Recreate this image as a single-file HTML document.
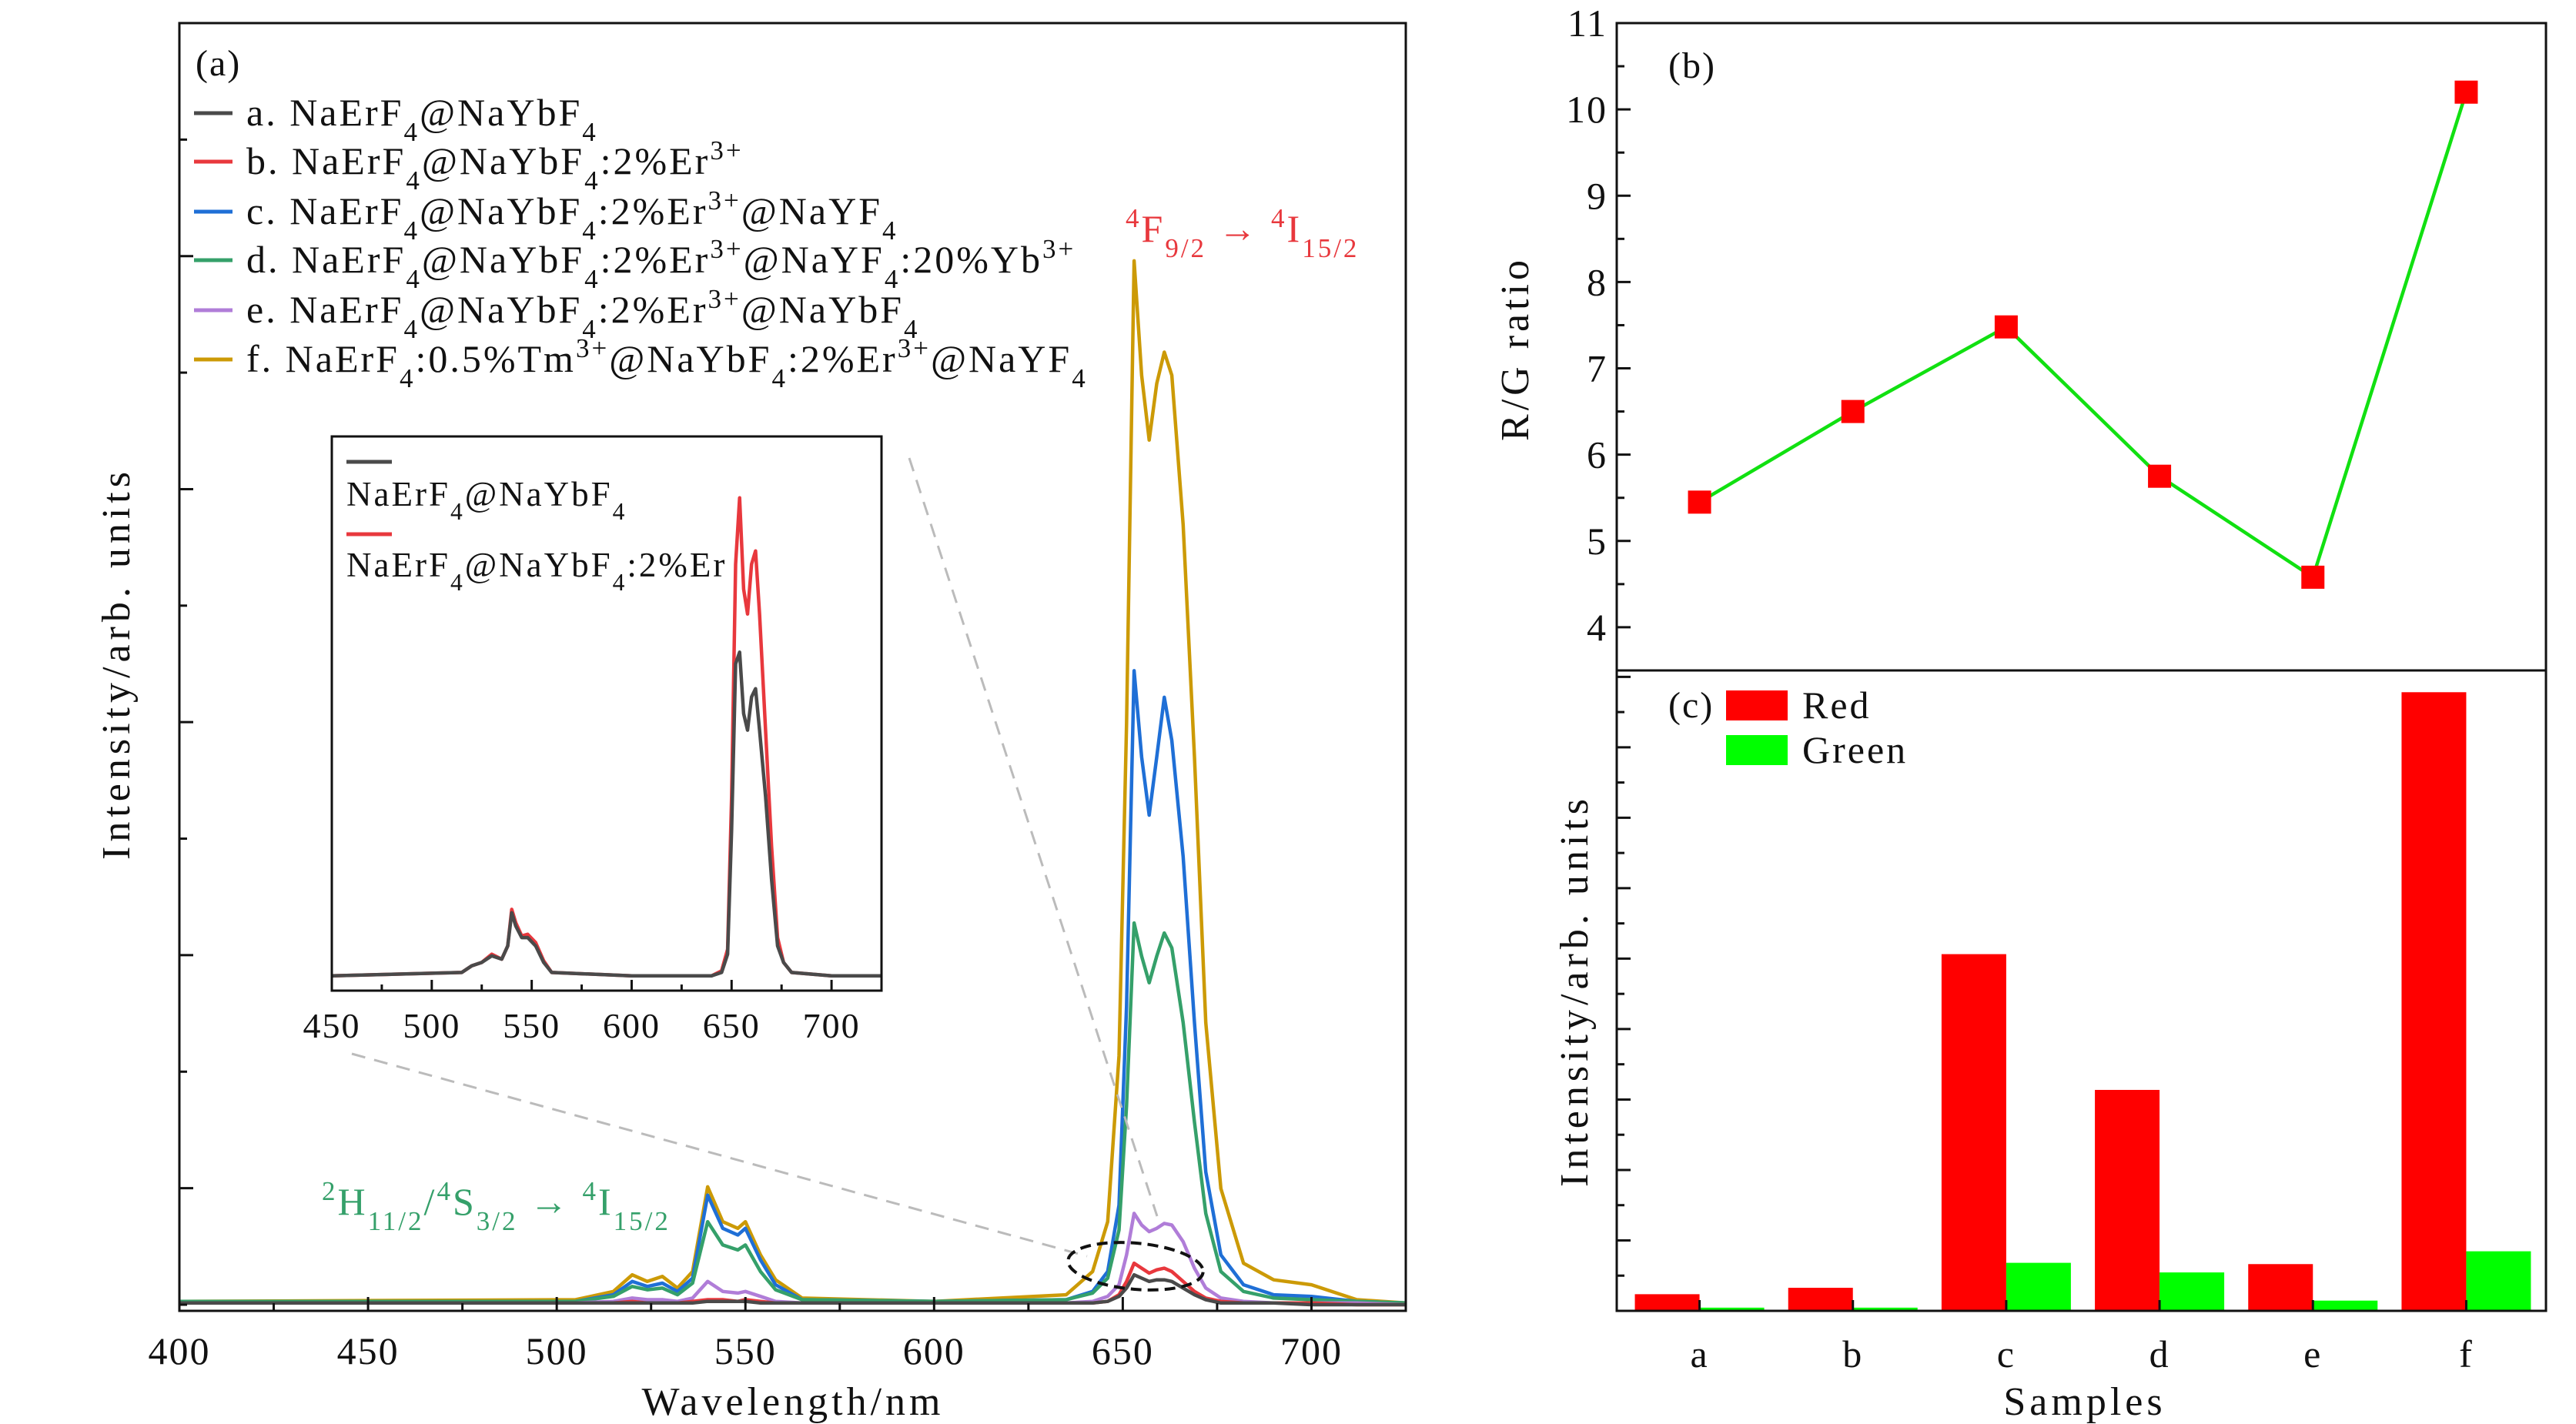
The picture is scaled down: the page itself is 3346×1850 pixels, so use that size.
<!DOCTYPE html>
<html><head><meta charset="utf-8"><style>
html,body{margin:0;padding:0;background:#fff;}
svg{display:block;font-family:"Liberation Serif",serif;}
</style></head><body>
<svg id="fig" width="3346" height="1850" viewBox="0 0 3346 1850" xmlns="http://www.w3.org/2000/svg">
<rect width="3346" height="1850" fill="#fff"/>
<g id="pa"></g>
<g id="pb"></g>
<g id="pc"></g>
</svg>
<script>
// ---- Panel (a) data ----
const wl = [400,505,515,520,524,528,532,536,540,544,548,550,554,558,565,600,635,642,646,649,651,653,655,657,659,661,663,666,669,672,676,682,690,700,712,725];
const seriesF = [2,3,8,18,14,17,10,20,71,50,46,50,30,15,4,2,6,20,50,150,350,629,560,521,555,574,560,470,330,170,70,25,15,12,3,1];
const seriesC = [2,2,6,14,11,13,8,16,66,46,42,46,27,12,3,2,3,8,20,60,180,382,330,295,330,366,340,270,170,80,30,12,6,5,2,1];
const seriesD = [2,2,5,11,9,10,6,13,50,36,33,36,20,9,3,2,3,7,16,45,120,230,210,194,210,224,215,170,110,55,20,8,4,3,2,1];
const seriesE = [1,1,2,4,3,3,2,4,14,8,7,8,5,2,1,1,1,2,5,12,30,55,48,44,46,49,48,38,22,10,4,2,1,1,1,0];
const seriesB = [1,1,1,2,1,1,1,2,3,3,2,3,2,1,1,1,1,1,2,6,14,25,22,19,21,22,20,14,8,4,2,1,1,1,0,0];
const seriesA = [1,1,1,1,1,1,1,1,2,2,2,2,1,1,1,1,1,1,2,5,10,18,16,14,15,15,14,10,6,3,1,1,1,0,0,0];
const xTicksA = [400,450,500,550,600,650,700];
// inset
const inWl = [450,515,520,525,530,535,538,540,542,545,548,552,556,560,600,640,645,648,650,652,654,656,658,660,662,664,667,670,673,676,680,700,725];
const inBlack = [2,4,8,10,14,12,20,40,32,25,25,20,10,4,2,2,4,15,90,190,197,160,150,170,175,150,110,60,20,10,4,2,2];
const inRed = [2,4,8,10,15,12,20,42,34,26,27,22,11,4,2,2,5,18,110,250,290,235,220,250,258,220,150,80,25,10,4,2,2];
const inTicks = [450,500,550,600,650,700];
// ---- Panel (b) data ----
const samples = ['a','b','c','d','e','f'];
const ratio = [5.45,6.5,7.48,5.75,4.58,10.2];
const yTicksB = [4,5,6,7,8,9,10,11];
// ---- Panel (c) data ----
const redVals = [2.6,3.6,55.7,34.5,7.3,96.6];
const greenVals = [0.5,0.5,7.5,6.0,1.6,9.3];

const NS='http://www.w3.org/2000/svg';
function mk(parent,tag,attrs){const e=document.createElementNS(NS,tag);for(const k in attrs)e.setAttribute(k,attrs[k]);parent.appendChild(e);return e;}
function txt(parent,x,y,parts,size,anchor,fill,ls){
  const t=mk(parent,'text',{x:x,y:y,'font-size':size,'text-anchor':anchor||'start',fill:fill||'#111','letter-spacing':ls||0});
  parts.forEach(p=>{
    if(typeof p==='string'){t.appendChild(document.createTextNode(p));}
    else{const s=mk(t,'tspan',{'baseline-shift':p[1],'font-size':size*0.7});s.textContent=p[0];}
  });
  return t;
}
const pa=document.getElementById('pa'),pb=document.getElementById('pb'),pc=document.getElementById('pc');

// ===== Panel a =====
const AL=233,AR=1826,AT=30,AB=1703;
const xA=w=>AL+(w-400)/(725-400)*(AR-AL);
const yA=v=>1695-v*2.156;
function pathOf(xs,ys,fx,fy){return xs.map((x,i)=>(i?'L':'M')+fx(x).toFixed(1)+','+fy(ys[i]).toFixed(1)).join(' ');}
const colors={a:'#4a4a4a',b:'#e8383d',c:'#1f6fd6',d:'#35a06a',e:'#b07dd8',f:'#cc9a06'};
[['f',seriesF],['c',seriesC],['d',seriesD],['e',seriesE],['b',seriesB],['a',seriesA]].forEach(([k,s])=>{
  const p=mk(pa,'path',{d:pathOf(wl,s,xA,yA),fill:'none',stroke:colors[k],'stroke-width':4.5,'stroke-linejoin':'round'});
  
  
});
const fa=mk(pa,'rect',{x:AL,y:AT,width:AR-AL,height:AB-AT,fill:'none',stroke:'#111','stroke-width':3});


for(let w=400;w<=725;w+=25){const maj=w%50===0;mk(pa,'line',{x1:xA(w),x2:xA(w),y1:AB,y2:AB-(maj?18:10),stroke:'#111','stroke-width':3});}
xTicksA.forEach(w=>{const t=txt(pa,xA(w),1772,[String(w)],50,'middle','#111',2);
  
  });
for(let i=0;i<=11;i++){const y=AB-8-i*(AB-8-AT)/11;mk(pa,'line',{x1:AL,x2:AL+(i%2?18:10),y1:y,y2:y,stroke:'#111','stroke-width':3});}
let t=txt(pa,1030,1838,['Wavelength/nm'],52,'middle','#111',5);

t=txt(pa,0,0,['Intensity/arb. units'],52,'middle','#111',6);t.setAttribute('transform','translate(168,862) rotate(-90)');

t=txt(pa,254,98,['(a)'],48,'start','#111',2);

const legTexts=[
 ['a. NaErF',['4','sub'],'@NaYbF',['4','sub']],
 ['b. NaErF',['4','sub'],'@NaYbF',['4','sub'],':2%Er',['3+','super']],
 ['c. NaErF',['4','sub'],'@NaYbF',['4','sub'],':2%Er',['3+','super'],'@NaYF',['4','sub']],
 ['d. NaErF',['4','sub'],'@NaYbF',['4','sub'],':2%Er',['3+','super'],'@NaYF',['4','sub'],':20%Yb',['3+','super']],
 ['e. NaErF',['4','sub'],'@NaYbF',['4','sub'],':2%Er',['3+','super'],'@NaYbF',['4','sub']],
 ['f. NaErF',['4','sub'],':0.5%Tm',['3+','super'],'@NaYbF',['4','sub'],':2%Er',['3+','super'],'@NaYF',['4','sub']]
];
const legY=[147,210,275,338,403,467];
['a','b','c','d','e','f'].forEach((k,i)=>{
  const g=mk(pa,'g',{});
  
  
  mk(g,'line',{x1:252,x2:302,y1:legY[i],y2:legY[i],stroke:colors[k],'stroke-width':5});
  txt(g,320,legY[i]+16,legTexts[i],50,'start','#111',3);
});
t=txt(pa,1462,314,[['4','super'],'F',['9/2','sub'],' → ',['4','super'],'I',['15/2','sub']],50,'start','#e8383d',3);

t=txt(pa,418,1578,[['2','super'],'H',['11/2','sub'],'/',['4','super'],'S',['3/2','sub'],' → ',['4','super'],'I',['15/2','sub']],50,'start','#35a06a',3);

mk(pa,'line',{x1:1181,y1:595,x2:1503,y2:1580,stroke:'#bbb','stroke-width':3,'stroke-dasharray':'18,12'});
mk(pa,'line',{x1:457,y1:1369,x2:1412,y2:1632,stroke:'#bbb','stroke-width':3,'stroke-dasharray':'18,12'});
const el=mk(pa,'ellipse',{cx:1475,cy:1645,rx:88,ry:30,fill:'none',stroke:'#111','stroke-width':4,'stroke-dasharray':'14,8',transform:'rotate(5 1475 1645)'});

// inset
const IL=431,IR=1145,IT=567,IB=1287;
const gi=mk(pa,'g',{});

mk(gi,'rect',{x:IL,y:IT,width:IR-IL,height:IB-IT,fill:'#fff'});
const xI=w=>IL+(w-450)/(725-450)*(IR-IL);
const yI=v=>1272-v*2.156;
let ip=mk(gi,'path',{d:pathOf(inWl,inRed,xI,yI),fill:'none',stroke:'#e8383d','stroke-width':4.5,'stroke-linejoin':'round'});

ip=mk(gi,'path',{d:pathOf(inWl,inBlack,xI,yI),fill:'none',stroke:'#4a4a4a','stroke-width':4.5,'stroke-linejoin':'round'});

mk(gi,'rect',{x:IL,y:IT,width:IR-IL,height:IB-IT,fill:'none',stroke:'#111','stroke-width':3});
for(let w=450;w<=725;w+=25){const maj=w%50===0;mk(gi,'line',{x1:xI(w),x2:xI(w),y1:IB,y2:IB-(maj?14:8),stroke:'#111','stroke-width':3});}
inTicks.forEach(w=>{const tt=txt(gi,xI(w),1348,[String(w)],46,'middle','#111',2);
  });
mk(gi,'line',{x1:450,x2:509,y1:600,y2:600,stroke:'#4a4a4a','stroke-width':5});
txt(gi,450,657,['NaErF',['4','sub'],'@NaYbF',['4','sub']],45,'start','#111',3);
mk(gi,'line',{x1:450,x2:509,y1:694,y2:694,stroke:'#e8383d','stroke-width':5});
txt(gi,450,749,['NaErF',['4','sub'],'@NaYbF',['4','sub'],':2%Er'],45,'start','#111',3);

// ===== Panel b =====
const BL=2100,BR=3307,BT=30,BB=871;
const xC=i=>BL+(i+0.54)/6.06*(BR-BL);
const yB=v=>BB-(v-3.5)/(11-3.5)*(BB-BT);
let fb=mk(pb,'rect',{x:BL,y:BT,width:BR-BL,height:BB-BT,fill:'none',stroke:'#111','stroke-width':3});

for(let v=4;v<=11;v+=0.5){const maj=Number.isInteger(v);mk(pb,'line',{x1:BL,x2:BL+(maj?18:10),y1:yB(v),y2:yB(v),stroke:'#111','stroke-width':3});}
yTicksB.forEach(v=>{const tt=txt(pb,2088,yB(v)+17,[String(v)],50,'end','#111',2);
  });
const lp=mk(pb,'path',{d:ratio.map((v,i)=>(i?'L':'M')+xC(i)+','+yB(v)).join(' '),fill:'none',stroke:'#11e011','stroke-width':4.5});

ratio.forEach((v,i)=>{const r=mk(pb,'rect',{x:xC(i)-15,y:yB(v)-15,width:30,height:30,fill:'#ff0000'});
  });
t=txt(pb,2167,101,['(b)'],48,'start','#111',2);
t=txt(pb,0,0,['R/G ratio'],52,'middle','#111',5);t.setAttribute('transform','translate(1985,453) rotate(-90)');


// ===== Panel c =====
const CT=871,CB=1703;
const yCc=v=>CB-v/100*(CB-CT);
let fc=mk(pc,'rect',{x:BL,y:CT,width:BR-BL,height:CB-CT,fill:'none',stroke:'#111','stroke-width':3});

for(let k=0;k<=18;k++){const v=k*5.5;if(v>100)break;mk(pc,'line',{x1:BL,x2:BL+(k%2?10:18),y1:yCc(v),y2:yCc(v),stroke:'#111','stroke-width':3});}
const bw=84;
redVals.forEach((v,i)=>{const r=mk(pc,'rect',{x:xC(i)-bw,y:yCc(v),width:bw,height:CB-yCc(v),fill:'#ff0000'});
  });
greenVals.forEach((v,i)=>{const r=mk(pc,'rect',{x:xC(i),y:yCc(v),width:bw,height:CB-yCc(v),fill:'#00ff00'});
  });
mk(pc,'rect',{x:BL,y:CT,width:BR-BL,height:CB-CT,fill:'none',stroke:'#111','stroke-width':3});
samples.forEach((s,i)=>{mk(pc,'line',{x1:xC(i),x2:xC(i),y1:CB,y2:CB-14,stroke:'#111','stroke-width':3});
  const tt=txt(pc,xC(i),1776,[s],50,'middle','#111',2);
  });
t=txt(pc,2708,1838,['Samples'],52,'middle','#111',5);
t=txt(pc,0,0,['Intensity/arb. units'],52,'middle','#111',6);t.setAttribute('transform','translate(2062,1287) rotate(-90)');

t=txt(pc,2167,932,['(c)'],48,'start','#111',2);
let lg=mk(pc,'g',{});
mk(lg,'rect',{x:2242,y:897,width:80,height:39,fill:'#ff0000'});txt(lg,2341,933,['Red'],50,'start','#111',3);
lg=mk(pc,'g',{});
mk(lg,'rect',{x:2242,y:955,width:80,height:39,fill:'#00ff00'});txt(lg,2341,991,['Green'],50,'start','#111',3);
</script>
</body></html>
